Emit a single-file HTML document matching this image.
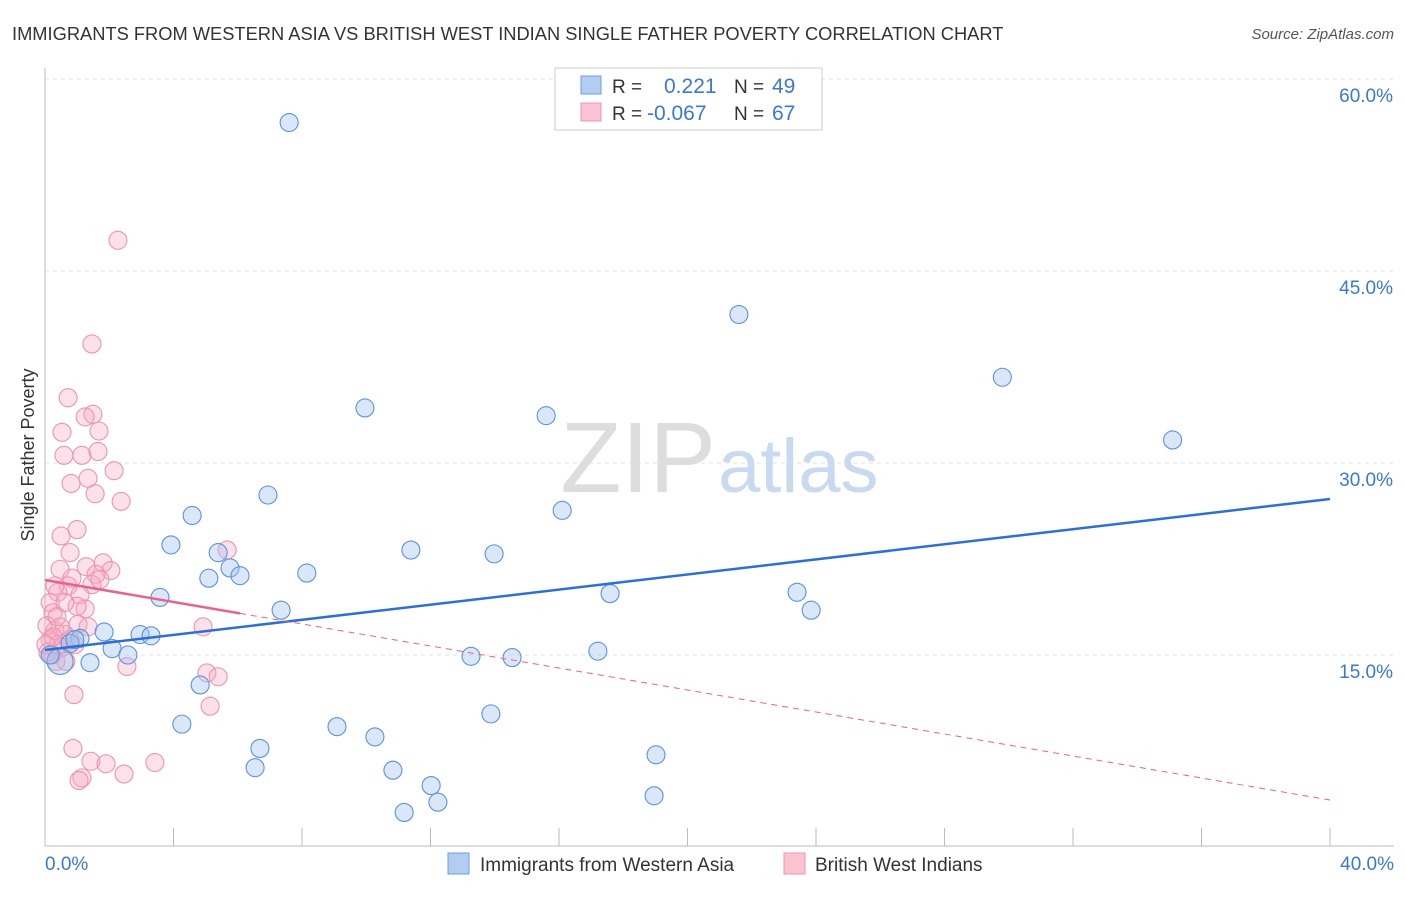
<!DOCTYPE html>
<html><head><meta charset="utf-8"><style>
body{margin:0;background:#fff;font-family:"Liberation Sans",sans-serif}
svg text{font-family:"Liberation Sans",sans-serif}
</style></head><body>
<svg id="c" width="1406" height="892" xmlns="http://www.w3.org/2000/svg">
<text x="12" y="40" font-size="18.3" fill="#333">IMMIGRANTS FROM WESTERN ASIA VS BRITISH WEST INDIAN SINGLE FATHER POVERTY CORRELATION CHART</text>
<text x="1394" y="39" font-size="15" fill="#555" text-anchor="end" font-style="italic">Source: ZipAtlas.com</text>
<text x="34" y="455" font-size="18" fill="#333" text-anchor="middle" transform="rotate(-90 34 455)">Single Father Poverty</text>
<g id="grid"></g>
<text x="716" y="492" font-size="100" fill="#ddd" text-anchor="end" font-family="Liberation Serif">ZIP</text>
<text x="718" y="492" font-size="76" fill="#c8d9f0">atlas</text>
<g id="pts"></g>
<g id="lines"></g>
<g>
<rect x="555" y="68" width="267" height="62" fill="#fff" stroke="#ccc"/>
<rect x="581" y="76" width="20" height="18" fill="#b3cdf2" stroke="#6c9ee0"/>
<rect x="581" y="103" width="20" height="18" fill="#f9c3d2" stroke="#ee94ae"/>
<text x="612" y="93" font-size="19" fill="#333">R =</text><text x="664" y="93" font-size="21" fill="#3a78d6">0.221</text>
<text x="734" y="93" font-size="19" fill="#333">N =</text><text x="772" y="93" font-size="21" fill="#3a78d6">49</text>
<text x="612" y="120" font-size="19" fill="#333">R =</text><text x="647" y="120" font-size="21" fill="#3a78d6">-0.067</text>
<text x="734" y="120" font-size="19" fill="#333">N =</text><text x="772" y="120" font-size="21" fill="#3a78d6">67</text>
</g>
<g>
<rect x="448" y="853" width="21" height="21" fill="#b3cdf2" stroke="#6c9ee0"/>
<text x="480" y="871" font-size="19" fill="#333">Immigrants from Western Asia</text>
<rect x="784" y="853" width="21" height="21" fill="#f9c3d2" stroke="#ee94ae"/>
<text x="815" y="871" font-size="19" fill="#333">British West Indians</text>
</g>
</svg>
<script>
const blueX=[7.6,21.6,29.8,35.1,9.96,15.6,6.94,16.1,4.58,3.92,5.39,11.39,13.98,5.76,5.1,6.07,8.15,3.58,17.59,23.41,23.85,7.35,2.96,3.3,1.84,1.09,0.78,0.47,2.09,2.58,1.4,13.26,14.54,17.21,4.83,4.26,13.88,9.09,10.27,6.69,19.02,6.54,10.83,12.02,12.23,18.96,11.18,0.16,0.93];
const blueY=[56.6,41.6,36.7,31.8,34.3,33.7,27.5,26.3,25.9,23.6,23.0,23.2,22.9,21.8,21.0,21.2,21.4,19.5,19.8,19.9,18.5,18.5,16.6,16.5,16.8,16.3,15.9,14.5,15.5,15.0,14.4,14.9,14.8,15.3,12.66,9.6,10.4,9.4,8.6,7.7,7.2,6.2,6.0,4.8,3.5,4.0,2.7,15.0,16.2];
const pinkX=[2.27,1.46,0.72,1.49,1.25,0.53,1.68,0.59,1.15,1.65,2.15,0.81,1.34,1.56,2.37,0.997,0.5,5.67,0.78,1.81,1.28,2.05,0.47,1.59,0.84,0.72,1.46,0.4,1.09,0.31,0.16,1.25,1.0,0.25,4.92,1.03,0.31,0.62,0.16,0.4,0.78,0.53,0.22,0.09,0.93,5.04,5.39,2.55,5.14,0.9,0.87,1.43,1.9,2.46,3.42,1.15,1.06,0.34,0.47,0.06,0.25,0.65,0.374,1.34,0.03,1.71,0.62];
const pinkY=[47.4,39.3,35.1,33.8,33.6,32.4,32.5,30.6,30.6,30.9,29.4,28.4,28.8,27.6,27.0,24.8,24.3,23.2,23.0,22.2,21.9,21.6,21.7,21.3,21.0,20.4,20.5,19.9,19.7,20.4,19.1,18.6,18.8,18.3,17.2,17.4,16.9,16.6,16.2,15.8,16.2,15.6,15.0,15.2,15.8,13.6,13.3,14.1,11.0,11.9,7.7,6.7,6.5,5.7,6.6,5.4,5.2,14.5,17.2,17.3,16.4,14.5,18.0,17.2,15.8,20.9,19.1];
const yTicks=[15,30,45,60];
const blueTrend=[15.39,27.19];
const pinkTrend=[20.86,3.67];
const pinkSolidEnd=6.07;
const NS='http://www.w3.org/2000/svg';
const X=v=>45+v*32.125, Y=v=>847-v*12.8;
function mk(t,a,p){const e=document.createElementNS(NS,t);for(const k in a)e.setAttribute(k,a[k]);p.appendChild(e);return e;}
const grid=document.getElementById('grid');
yTicks.forEach(t=>{
 const l=mk('line',{x1:45,x2:1394,y1:Y(t),y2:Y(t),stroke:'#e2e2e2','stroke-dasharray':'4,4'},grid);
 
 
 const tx=mk('text',{x:1393,y:Y(t)+23,'font-size':19,fill:'#3a78d6','text-anchor':'end'},grid);
 tx.textContent=t.toFixed(1)+'%';
 
 
});
mk('line',{x1:45,x2:45,y1:68,y2:846,stroke:'#bbb'},grid);
mk('line',{x1:45,x2:1394,y1:846,y2:846,stroke:'#bbb'},grid);
for(let i=1;i<=10;i++){mk('line',{x1:X(i*4),x2:X(i*4),y1:828,y2:846,stroke:'#bbb'},grid);}
const x0=mk('text',{x:45,y:870,'font-size':19,fill:'#3a78d6'},grid);x0.textContent='0.0%';


const x1=mk('text',{x:1394,y:870,'font-size':19,fill:'#3a78d6','text-anchor':'end'},grid);x1.textContent='40.0%';


const pts=document.getElementById('pts');
pinkX.forEach((x,i)=>{const c=mk('circle',{cx:X(x),cy:Y(pinkY[i]),r:9,fill:'rgba(246,170,194,0.35)',stroke:'#ee94ae','stroke-width':1.1},pts);
 
 });
blueX.forEach((x,i)=>{const c=mk('circle',{cx:X(x),cy:Y(blueY[i]),r:(blueX[i]==0.47?13:9),fill:'rgba(160,196,240,0.4)',stroke:'#5b93dc','stroke-width':1.1},pts);
 
 });
const lines=document.getElementById('lines');
const bl=mk('line',{x1:X(0),y1:Y(blueTrend[0]),x2:X(40),y2:Y(blueTrend[1]),stroke:'#2c6fd6','stroke-width':2.5},lines);


const pv=x=>pinkTrend[0]+(pinkTrend[1]-pinkTrend[0])*x/40;
const ps=mk('line',{x1:X(0),y1:Y(pv(0)),x2:X(pinkSolidEnd),y2:Y(pv(pinkSolidEnd)),stroke:'#e8638c','stroke-width':2.5},lines);


const pd=mk('line',{x1:X(pinkSolidEnd),y1:Y(pv(pinkSolidEnd)),x2:X(40),y2:Y(pv(40)),stroke:'#e8638c','stroke-width':1,'stroke-dasharray':'6,5'},lines);


</script>
</body></html>
